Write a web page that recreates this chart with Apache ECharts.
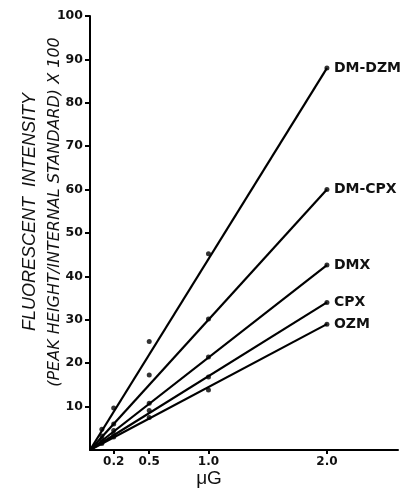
<!DOCTYPE html>
<html>
<head>
<meta charset="utf-8">
<script src="https://cdn.jsdelivr.net/npm/echarts@6/dist/echarts.min.js"></script>
<style>html,body{margin:0;padding:0;background:#fff}#c{width:409px;height:492px}</style>
</head>
<body>
<div id="c"></div>
<script>
var seriesNames = ['DM-DZM', 'DM-CPX', 'DMX', 'CPX', 'OZM'];
var doses = [0.1, 0.2, 0.5, 1.0, 2.0];
var dmDzm = [4.8, 9.7, 25.0, 45.2, 88.0];
var dmCpx = [3.2, 6.0, 17.3, 30.2, 60.0];
var dmx = [2.4, 4.5, 10.8, 21.4, 42.6];
var cpx = [1.8, 3.6, 9.1, 16.8, 34.0];
var ozm = [1.5, 3.0, 7.5, 13.8, 29.0];
var fitAt2 = [88.0, 60.0, 42.6, 34.0, 29.0];
var xTicks = [0.2, 0.5, 1.0, 2.0];
var yTicks = [10, 20, 30, 40, 50, 60, 70, 80, 90, 100];

var allValues = [dmDzm, dmCpx, dmx, cpx, ozm];
var font = 'DejaVu Sans, Liberation Sans, sans-serif';
var font2 = 'Liberation Sans, Arial, sans-serif';
var series = [];
seriesNames.forEach(function (name, i) {
  series.push({
    name: name,
    type: 'line',
    data: [[0, 0], [2.0, fitAt2[i]]],
    showSymbol: false,
    symbol: 'none',
    lineStyle: { color: '#000', width: 2.2 },
    silent: true,
    endLabel: {
      show: true,
      formatter: '{a}',
      color: '#111',
      fontFamily: font,
      fontWeight: 'bold',
      fontSize: 14,
      distance: 7
    }
  });
  series.push({
    name: name + ' pts',
    type: 'scatter',
    data: doses.map(function (d, j) { return [d, allValues[i][j]]; }),
    symbol: 'circle',
    symbolSize: 5,
    itemStyle: { color: '#000' },
    silent: true
  });
});

var chart = echarts.init(document.getElementById('c'));
chart.setOption({
  animation: false,
  backgroundColor: '#fff',
  grid: { left: 90, right: 11, top: 16, bottom: 42, containLabel: false },
  xAxis: {
    type: 'value',
    min: 0,
    max: 2.6,
    axisLine: { show: true, lineStyle: { color: '#000', width: 2 } },
    axisTick: { show: true, customValues: xTicks, length: 4, lineStyle: { color: '#000', width: 2 } },
    axisLabel: {
      customValues: xTicks,
      formatter: function (v) { return v.toFixed(1); },
      color: '#111',
      fontFamily: font,
      fontWeight: 'bold',
      fontSize: 12,
      margin: 6
    },
    splitLine: { show: false }
  },
  yAxis: {
    type: 'value',
    min: 0,
    max: 100,
    interval: 10,
    axisLine: { show: true, lineStyle: { color: '#000', width: 2 } },
    axisTick: { show: true, customValues: yTicks, length: 5, lineStyle: { color: '#000', width: 2 } },
    axisLabel: {
      customValues: yTicks,
      color: '#111',
      fontFamily: font,
      fontWeight: 'bold',
      fontSize: 12.5,
      margin: 7
    },
    splitLine: { show: false }
  },
  graphic: [
    {
      type: 'text',
      x: 30, y: 212, rotation: Math.PI / 2,
      style: {
        text: 'FLUORESCENT  INTENSITY',
        fontFamily: font2, fontStyle: 'italic', fontSize: 18, fill: '#111',
        align: 'center', verticalAlign: 'middle'
      }
    },
    {
      type: 'text',
      x: 55, y: 212, rotation: Math.PI / 2,
      style: {
        text: '(PEAK HEIGHT/INTERNAL STANDARD) X 100',
        fontFamily: font, fontStyle: 'italic', fontSize: 16, fill: '#111',
        align: 'center', verticalAlign: 'middle'
      }
    },
    {
      type: 'text',
      x: 209, y: 479,
      style: {
        text: 'μG',
        fontFamily: font2, fontSize: 19, fill: '#111',
        align: 'center', verticalAlign: 'middle'
      }
    }
  ],
  series: series
});
</script>
</body>
</html>
